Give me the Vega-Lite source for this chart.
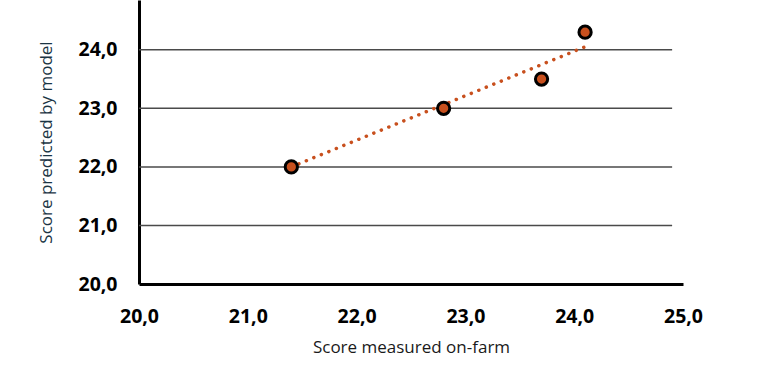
{
  "$schema": "https://vega.github.io/schema/vega-lite/v6.json",
  "autosize": "none",
  "width": 544,
  "height": 284,
  "padding": {"left": 139, "top": 0, "right": 87, "bottom": 101},
  "background": "white",
  "config": {
    "view": {"stroke": null},
    "font": "Open Sans"
  },
  "datasets": {
    "points": [
      {"measured": 21.4, "predicted": 22.0},
      {"measured": 22.8, "predicted": 23.0},
      {"measured": 23.7, "predicted": 23.5},
      {"measured": 24.1, "predicted": 24.3}
    ],
    "trend": [
      {"measured": 21.4, "predicted": 22.0},
      {"measured": 24.1, "predicted": 24.05}
    ],
    "grid": [
      {"level": 21, "start": 20, "end": 24.9},
      {"level": 22, "start": 20, "end": 24.9},
      {"level": 23, "start": 20, "end": 24.9},
      {"level": 24, "start": 20, "end": 24.9}
    ]
  },
  "layer": [
    {
      "data": {"name": "grid"},
      "mark": {"type": "rule", "color": "#4a4a4a", "strokeWidth": 1.5},
      "encoding": {
        "y": {"field": "level", "type": "quantitative", "scale": {"domain": [20, 24.85], "nice": false, "zero": false}},
        "x": {"field": "start", "type": "quantitative", "scale": {"domain": [20, 25], "nice": false, "zero": false}},
        "x2": {"field": "end"}
      }
    },
    {
      "data": {"name": "trend"},
      "mark": {"type": "line", "color": "#c8501e", "strokeWidth": 3.5, "strokeCap": "round", "strokeDash": [0.1, 8]},
      "encoding": {
        "x": {"field": "measured", "type": "quantitative"},
        "y": {"field": "predicted", "type": "quantitative"}
      }
    },
    {
      "data": {"name": "points"},
      "mark": {"type": "point", "shape": "circle", "filled": true, "fill": "#c8501e", "stroke": "black", "strokeWidth": 3, "size": 150, "opacity": 1},
      "encoding": {
        "x": {
          "field": "measured", "type": "quantitative",
          "axis": {
            "title": "Score measured on-farm",
            "values": [20, 21, 22, 23, 24, 25],
            "labelExpr": "replace(format(datum.value, '.1f'), '.', ',')",
            "grid": false,
            "ticks": false,
            "domain": true,
            "domainColor": "black",
            "domainWidth": 3,
            "labelFont": "Open Sans",
            "labelFontWeight": "bold",
            "labelFontSize": 19.5,
            "labelColor": "black",
            "labelPadding": 23,
            "labelFlush": false,
            "titleFont": "Open Sans",
            "titleFontWeight": "normal",
            "titleFontSize": 17,
            "titleColor": "#1a1a1a",
            "titlePadding": 14
          }
        },
        "y": {
          "field": "predicted", "type": "quantitative",
          "axis": {
            "title": "Score predicted by model",
            "values": [20, 21, 22, 23, 24],
            "labelExpr": "replace(format(datum.value, '.1f'), '.', ',')",
            "grid": false,
            "ticks": false,
            "domain": true,
            "domainColor": "black",
            "domainWidth": 3,
            "labelFont": "Open Sans",
            "labelFontWeight": "bold",
            "labelFontSize": 19.5,
            "labelColor": "black",
            "labelPadding": 22,
            "labelFlush": false,
            "titleFont": "Open Sans",
            "titleFontWeight": "normal",
            "titleFontSize": 17,
            "titleColor": "#1a3444",
            "titlePadding": 22
          }
        }
      }
    }
  ]
}
